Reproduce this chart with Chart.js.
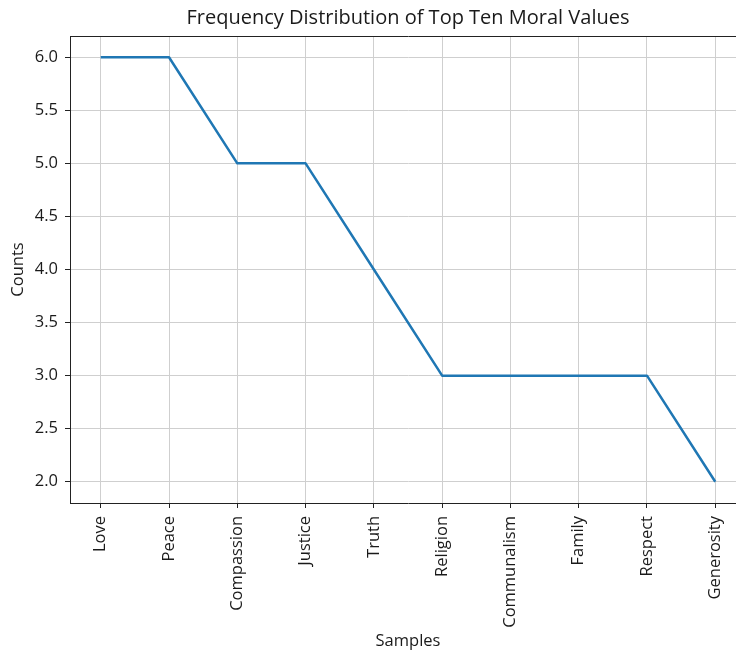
<html>
<head>
  <title>Frequency Distribution of Top Ten Moral Values</title>
  <style>
    html, body { margin: 0; padding: 0; overflow: hidden; background: #fff; }
  </style>
</head>
<body>

<canvas id="freq" width="746" height="652"></canvas>

<script src="https://cdn.jsdelivr.net/npm/chart.js@4/dist/chart.umd.min.js"></script>
<script>

// values
const samples = ['Love', 'Peace', 'Compassion', 'Justice', 'Truth',
                 'Religion', 'Communalism', 'Family', 'Respect', 'Generosity'];
const counts = [6, 6, 5, 5, 4, 3, 3, 3, 3, 2];
const countTicks = [2.0, 2.5, 3.0, 3.5, 4.0, 4.5, 5.0, 5.5, 6.0];

const FONT = 'Open Sans';
const INK = '#1a1a1a';
const SPINE = '#222';
const GRID = '#cfcfcf';

function createChart(canvas_id)
{
  const ctx = document.getElementById(canvas_id);

  new Chart(ctx, {
    type: 'line',
    data: {
      datasets: [
        {
          data: counts.map((c, i) => ({x: i, y: c})),
          borderColor: '#1f77b4',
          borderWidth: 2.5,
          borderJoinStyle: 'round',
          pointRadius: 0,
          tension: 0,
          fill: false,
        }
      ],
    },
    options: {
      responsive: false,
      animation: false,
      devicePixelRatio: 1,
      layout: { padding: 0 },
      plugins: {
        legend: { display: false },
        tooltip: { enabled: false },
        title: {
          display: true,
          fullSize: false,   // center over the plot area, not the canvas
          text: 'Frequency Distribution of Top Ten Moral Values',
          color: INK,
          font: { family: FONT, size: 20, weight: 'normal' },
          padding: { top: 6, bottom: 6 },
        },
      },
      scales: {
        x: {
          type: 'linear',
          position: 'bottom',
          min: -0.45,
          max: samples.length - 1 + 0.45,
          afterBuildTicks: s => { s.ticks = samples.map((_, i) => ({value: i})); },
          afterFit: s => { s.height = 149; },
          ticks: {
            autoSkip: false,
            minRotation: 90,
            maxRotation: 90,
            padding: 8,
            color: INK,
            font: { family: FONT, size: 16.5 },
            callback: v => samples[v],
          },
          grid: { color: GRID, lineWidth: 1, tickLength: 5, tickColor: SPINE, tickWidth: 1 },
          border: { display: true, color: SPINE, width: 1 },
          title: {
            display: true,
            text: 'Samples',
            color: INK,
            font: { family: FONT, size: 16.5 },
            padding: { top: 0, bottom: 1 },
          },
        },
        xTop: {
          type: 'linear',
          position: 'top',
          min: -0.45,
          max: samples.length - 1 + 0.45,
          afterFit: s => { s.height = 0; },
          ticks: { display: false },
          grid: { display: false },
          border: { display: true, color: SPINE, width: 1 },
        },
        y: {
          type: 'linear',
          position: 'left',
          min: 1.8,
          max: 6.2,
          afterBuildTicks: s => { s.ticks = countTicks.map(v => ({value: v})); },
          afterFit: s => { s.width = 70; },
          ticks: {
            padding: 7,
            color: INK,
            font: { family: FONT, size: 16.5 },
            callback: v => Number(v).toFixed(1),
          },
          grid: { color: GRID, lineWidth: 1, tickLength: 5, tickColor: SPINE, tickWidth: 1 },
          border: { display: true, color: SPINE, width: 1 },
          title: {
            display: true,
            text: 'Counts',
            color: INK,
            font: { family: FONT, size: 16.5 },
            padding: { top: 8, bottom: 0 },
          },
        },
      },
    },
  });
}

createChart('freq');

</script>

</body>
</html>
